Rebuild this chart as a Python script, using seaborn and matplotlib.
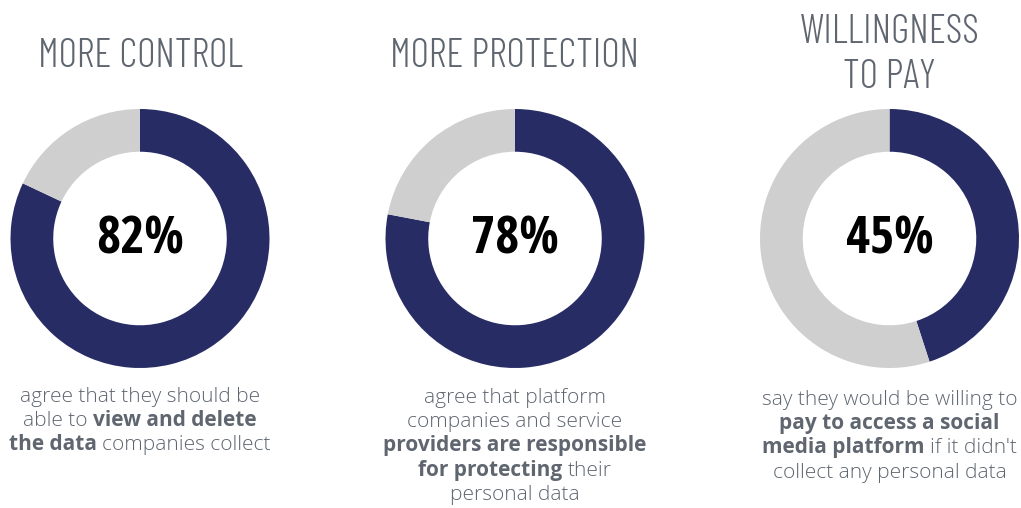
import matplotlib
matplotlib.use("Agg")
import matplotlib.pyplot as plt
import matplotlib.transforms as mtrans
import seaborn as sns

# ---- data ----
titles = ["MORE CONTROL", "MORE PROTECTION", "WILLINGNESS\nTO PAY"]
shares = [82, 78, 45]  # percent agreeing
# caption lines: list of (text, is_bold) segments
captions = [
    [[("agree that they should be", False)],
     [("able to", False), ("view and delete", True)],
     [("the data", True), ("companies collect", False)]],
    [[("agree that platform", False)],
     [("companies and service", False)],
     [("providers are responsible", True)],
     [("for protecting", True), ("their", False)],
     [("personal data", False)]],
    [[("say they would be willing to", False)],
     [("pay to access a social", True)],
     [("media platform", True), ("if it didn't", False)],
     [("collect any personal data", False)]],
]

# ---- style ----
sns.set_theme(style="white")
NAVY = "#272d64"
GREY = "#cfcfcf"
TEXT = "#5f6670"
W, H = 1021, 508

centers_x = [140, 515, 889.5]
center_y = 238.5
R_OUT = 129.5
RING = 0.33

fig = plt.figure(figsize=(W / 100, H / 100), dpi=100)
fig.patch.set_facecolor("white")
px = mtrans.IdentityTransform()

for i, (cx, title, val) in enumerate(zip(centers_x, titles, shares)):
    ax = fig.add_axes([(cx - R_OUT) / W, (H - center_y - R_OUT) / H, 2 * R_OUT / W, 2 * R_OUT / H])
    ax.pie([val, 100 - val], colors=[NAVY, GREY], startangle=90, counterclock=False,
           radius=1, wedgeprops=dict(width=RING, linewidth=0))
    ax.set_xlim(-1, 1)
    ax.set_ylim(-1, 1)
    ax.set_aspect("equal")
    ax.axis("off")
    ax.text(0, 0, f"{val}%", ha="center", va="baseline", transform=px,
            family="Open Sans Condensed", weight=700, fontsize=37.5, color="black")
    # reposition the percent label in pixel coords
    ax.texts[-1].set_position((cx, H - 254))

    # title
    tlines = title.split("\n")
    if len(tlines) == 1:
        baselines = [67]
    else:
        baselines = [43, 88]
    for line, b in zip(tlines, baselines):
        fig.text(cx, H - b, line, transform=px, ha="center", va="baseline",
                 family="Barlow Condensed", weight=300, fontsize=29, color=TEXT)

# ---- captions with mixed weights ----
renderer = fig.canvas.get_renderer()
CAP_FS = 15


def seg_props(bold):
    return dict(family="Open Sans", weight=700 if bold else 300, fontsize=CAP_FS, color=TEXT)


def width_of(s, bold):
    t = fig.text(0, 0, s, transform=px, **seg_props(bold))
    w = t.get_window_extent(renderer).width
    t.remove()
    return w


space_w = width_of("x x", False) - width_of("xx", False)

first_base = [402, 403, 405]
pitch = 24.2
for cx, lines, b0 in zip(centers_x, captions, first_base):
    for j, segs in enumerate(lines):
        widths = [width_of(s, b) for s, b in segs]
        total = sum(widths) + space_w * (len(segs) - 1)
        x = cx - total / 2
        y = H - (b0 + j * pitch)
        for (s, b), w in zip(segs, widths):
            fig.text(x, y, s, transform=px, ha="left", va="baseline", **seg_props(b))
            x += w + space_w

fig.savefig("out.png", dpi=100, facecolor="white")
